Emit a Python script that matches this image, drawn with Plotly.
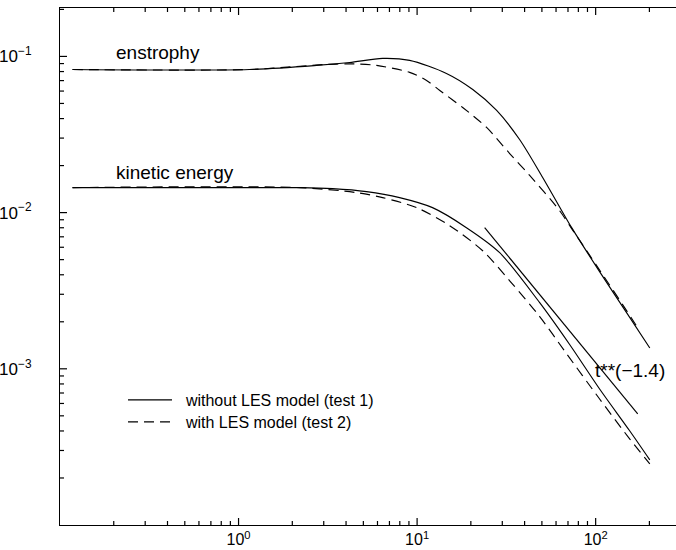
import math
import plotly.graph_objects as go

# ---- data: time t and integral quantities of the two runs ----
# enstrophy, run without LES model (test 1)
t_ens_1 = [0.1175, 1.15, 2.73, 4.19, 6.41, 9.08, 14.6, 20.5, 27.9, 37.5, 50.5, 73.4, 105.2, 149, 201]
ens_1 = [0.0825, 0.0825, 0.0876, 0.0915, 0.0971, 0.0943, 0.0778, 0.0614, 0.0451, 0.0294, 0.0168,
         0.00801, 0.00419, 0.00229, 0.00136]

# enstrophy, run with LES model (test 2)
t_ens_2 = [0.1175, 1.15, 3.11, 4.47, 5.93, 9.08, 11.3, 13.4, 18.0, 24.5, 33.0, 42.7, 62.8, 73.4,
           89.1, 105, 149, 172]
ens_2 = [0.0825, 0.0825, 0.0889, 0.0895, 0.0876, 0.0790, 0.0702, 0.0605, 0.0471, 0.0351, 0.0239,
         0.0173, 0.0103, 0.00789, 0.0057, 0.0043, 0.00236, 0.00183]

# kinetic energy, test 1
t_ke_1 = [0.1175, 2.20, 3.36, 5.21, 7.98, 12.2, 18.9, 29.0, 48.6, 71.5, 105, 155, 201]
ke_1 = [0.01446, 0.01446, 0.01425, 0.01364, 0.01248, 0.01076, 0.00801, 0.00554, 0.00265,
        0.00143, 0.000745, 0.000401, 0.000261]

# kinetic energy, test 2
t_ke_2 = [0.1175, 2.20, 4.58, 6.41, 9.94, 15.2, 23.3, 33.0, 48.6, 67.0, 105, 155, 201]
ke_2 = [0.01446, 0.01446, 0.01343, 0.01248, 0.01076, 0.00826, 0.00570, 0.00366, 0.00216,
        0.00130, 0.000643, 0.000356, 0.000246]

# reference power law t**(-1.4)
t_fit = [23.9, 172]
fit = [0.00802, 0.000515]

# axis tick labels
x_tickvals = [1, 10, 100]
x_ticktext = ["10<sup>0</sup>", "10<sup>1</sup>", "10<sup>2</sup>"]
y_tickvals = [1e-3, 1e-2, 1e-1]
y_ticktext = ["10<sup>\u22123</sup>", "10<sup>\u22122</sup>", "10<sup>\u22121</sup>"]

legend_names = ["\u00a0\u00a0without LES model (test 1)", "\u00a0\u00a0with LES model (test 2)"]

FONT = "Liberation Sans, Arial, Helvetica, sans-serif"
LW = 1.15
SOLID = dict(color="black", width=LW, shape="spline", smoothing=0.8)
DASHED = dict(color="black", width=LW, dash="10px,6px", shape="spline", smoothing=0.8)

X_RANGE = [-1.0, 2.45]
Y_RANGE = [-4.0, -0.69]

fig = go.Figure()
fig.add_trace(go.Scatter(x=t_ens_1, y=ens_1, mode="lines", line=SOLID,
                         name=legend_names[0], legend="legend", showlegend=True))
fig.add_trace(go.Scatter(x=t_ens_2, y=ens_2, mode="lines", line=DASHED,
                         name=legend_names[1], legend="legend2", showlegend=True))
fig.add_trace(go.Scatter(x=t_ke_1, y=ke_1, mode="lines", line=SOLID, showlegend=False))
fig.add_trace(go.Scatter(x=t_ke_2, y=ke_2, mode="lines", line=DASHED, showlegend=False))
fig.add_trace(go.Scatter(x=t_fit, y=fit, mode="lines",
                         line=dict(color="black", width=LW), showlegend=False))

axis_common = dict(
    type="log", showgrid=False, zeroline=False, automargin=False,
    showline=True, linecolor="black", linewidth=1.2,
    ticks="", ticklen=0, tickmode="array",
)

fig.update_layout(
    width=676, height=550,
    margin=dict(l=60, r=0, t=8, b=25),
    paper_bgcolor="white", plot_bgcolor="white",
    font=dict(family=FONT, color="black"),
    xaxis=dict(**axis_common, range=X_RANGE, tickvals=x_tickvals, ticktext=x_ticktext,
               mirror=True, ticklabelstandoff=0,
               tickfont=dict(family=FONT, size=16, color="black")),
    yaxis=dict(**axis_common, range=Y_RANGE, tickvals=y_tickvals, ticktext=y_ticktext,
               ticklabelstandoff=24,
               tickfont=dict(family=FONT, size=17, color="black")),
    legend=dict(x=0.1023, y=0.2417, xanchor="left", yanchor="middle", itemwidth=44,
                bgcolor="rgba(0,0,0,0)", font=dict(family=FONT, size=16, color="black")),
    legend2=dict(x=0.1023, y=0.1992, xanchor="left", yanchor="middle", itemwidth=44,
                 bgcolor="rgba(0,0,0,0)", font=dict(family=FONT, size=16, color="black")),
)

# inward tick marks: majors at each decade, minors at 2..9 (bottom, top and left edges)
MAJOR_LEN, MINOR_LEN = 7, 4
tick_line = dict(color="black", width=1.2)
x_lo, x_hi = 10 ** X_RANGE[0], 10 ** X_RANGE[1]
y_lo, y_hi = 10 ** Y_RANGE[0], 10 ** Y_RANGE[1]
for e in range(-1, 3):
    for m in range(1, 10):
        v = m * 10 ** e
        if not (x_lo < v < x_hi):
            continue
        ln = MAJOR_LEN if m == 1 else MINOR_LEN
        fig.add_shape(type="line", xref="x", yref="paper", ysizemode="pixel", yanchor=0,
                      x0=v, x1=v, y0=0, y1=ln, line=tick_line, layer="above")
        fig.add_shape(type="line", xref="x", yref="paper", ysizemode="pixel", yanchor=1,
                      x0=v, x1=v, y0=0, y1=-ln, line=tick_line, layer="above")
for e in range(-4, 0):
    for m in range(1, 10):
        v = m * 10 ** e
        if not (y_lo < v < y_hi):
            continue
        ln = MAJOR_LEN if m == 1 else MINOR_LEN
        fig.add_shape(type="line", xref="paper", yref="y", xsizemode="pixel", xanchor=0,
                      x0=0, x1=ln, y0=v, y1=v, line=tick_line, layer="above")

label_font = dict(family=FONT, size=19, color="black")
fig.add_annotation(x=math.log10(0.2), y=math.log10(0.106), text="enstrophy", showarrow=False,
                   xanchor="left", yanchor="middle", font=label_font)
fig.add_annotation(x=math.log10(0.2), y=math.log10(0.0180), text="kinetic energy", showarrow=False,
                   xanchor="left", yanchor="middle", font=label_font)
fig.add_annotation(x=math.log10(155.6), y=math.log10(0.000971), text="t**(\u22121.4)",
                   showarrow=False, xanchor="center", yanchor="middle", font=label_font)

fig.write_html("out.html")
